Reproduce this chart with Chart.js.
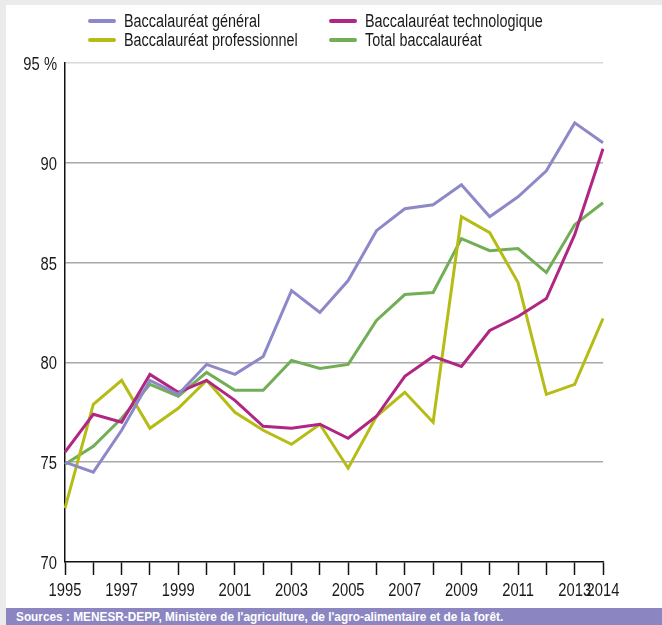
<!DOCTYPE html>
<html>
<head>
<meta charset="utf-8">
<script src="https://cdn.jsdelivr.net/npm/chart.js@4/dist/chart.umd.min.js"></script>
<style>
  html, body { margin: 0; padding: 0; }
  body {
    width: 662px; height: 625px; background: #ebebeb; position: relative; overflow: hidden;
    font-family: "Liberation Sans", Arial, sans-serif;
  }
  #panel { position: absolute; left: 6px; top: 5px; width: 656px; height: 603px; background: #fff; }
  #wrap { position: absolute; left: 0; top: 0; width: 662px; height: 605px; }
  #legend { position: absolute; left: 0; top: 0; width: 662px; height: 60px; }
  .item { position: absolute; height: 20px; white-space: nowrap; }
  .item .swatch { position: absolute; left: 0; top: 8px; width: 28px; height: 4px; border-radius: 2px; }
  .item .txt {
    position: absolute; left: 36px; top: 0; font-size: 18px; line-height: 20px; color: #1a1a1a;
    transform: scaleX(0.8); transform-origin: left center;
  }
  #footer {
    position: absolute; left: 6px; top: 608px; width: 656px; height: 17px; background: #8b86c2;
  }
  #footer span {
    position: absolute; left: 10px; top: 0; color: #fff; font-weight: bold; font-size: 13px; line-height: 17px;
    white-space: nowrap; transform: scaleX(0.91); transform-origin: left center;
  }
</style>
</head>
<body>
<div id="panel"></div>
<div id="wrap"><canvas id="chart" width="662" height="605"></canvas></div>
<div id="legend"></div>
<div id="footer"><span>Sources : MENESR-DEPP, Ministère de l'agriculture, de l'agro-alimentaire et de la forêt.</span></div>
<script>
// Years and tick labels
const years = ['1995','1996','1997','1998','1999','2000','2001','2002','2003','2004',
               '2005','2006','2007','2008','2009','2010','2011','2012','2013','2014'];
const yearTickLabels = ['1995','','1997','','1999','','2001','','2003','',
                        '2005','','2007','','2009','','2011','','2013','2014'];
const yTickValues = [70, 75, 80, 85, 90, 95];
const yTickLabels = ['70', '75', '80', '85', '90', '95 %'];

// Taux de réussite (%)
const bacGeneral = [75.0, 74.5, 76.6, 79.1, 78.4, 79.9, 79.4, 80.3, 83.6, 82.5,
                    84.1, 86.6, 87.7, 87.9, 88.9, 87.3, 88.3, 89.6, 92.0, 91.0];
const bacTechno = [75.5, 77.4, 77.0, 79.4, 78.5, 79.1, 78.1, 76.8, 76.7, 76.9,
                   76.2, 77.3, 79.3, 80.3, 79.8, 81.6, 82.3, 83.2, 86.4, 90.7];
const bacPro = [72.7, 77.9, 79.1, 76.7, 77.7, 79.1, 77.5, 76.6, 75.9, 76.9,
                74.7, 77.3, 78.5, 77.0, 87.3, 86.5, 84.0, 78.4, 78.9, 82.2];
const bacTotal = [74.9, 75.8, 77.2, 78.9, 78.3, 79.5, 78.6, 78.6, 80.1, 79.7,
                  79.9, 82.1, 83.4, 83.5, 86.2, 85.6, 85.7, 84.5, 86.9, 88.0];

const FONT = '"Liberation Sans", Arial, sans-serif';

const series = [
    { label: 'Baccalauréat général', data: bacGeneral, color: '#8d89c9', left: 88, top: 11 },
    { label: 'Baccalauréat technologique', data: bacTechno, color: '#b02682', left: 329, top: 11 },
    { label: 'Baccalauréat professionnel', data: bacPro, color: '#b5bc16', left: 88, top: 30 },
    { label: 'Total baccalauréat', data: bacTotal, color: '#72ae55', left: 329, top: 30 }
];

// legend drawn in html, 2 columns
const legend = document.getElementById('legend');
series.forEach(s => {
    const div = document.createElement('div');
    div.className = 'item';
    div.style.left = s.left + 'px';
    div.style.top = s.top + 'px';
    div.innerHTML = '<span class="swatch" style="background:' + s.color + '"></span><span class="txt">' + s.label + '</span>';
    legend.appendChild(div);
});

// narrow tick labels: drawn squeezed at the scale's own tick positions
const narrowTicks = {
    id: 'narrowTicks',
    afterDraw(chart) {
        const c = chart.ctx;
        const xs = chart.scales.x, ys = chart.scales.y;
        c.save();
        c.fillStyle = '#1a1a1a';
        c.font = '18px ' + FONT;
        c.textBaseline = 'middle';
        c.textAlign = 'center';
        yearTickLabels.forEach((lab, i) => {
            if (!lab) return;
            c.save();
            c.translate(xs.getPixelForTick(i), xs.bottom - 14);
            c.scale(0.82, 1);
            c.fillText(lab, 0, 0);
            c.restore();
        });
        c.textAlign = 'right';
        yTickValues.forEach((v, i) => {
            c.save();
            c.translate(ys.right - 8, ys.getPixelForValue(v) + 2);
            c.scale(0.82, 1);
            c.fillText(yTickLabels[i], 0, 0);
            c.restore();
        });
        c.restore();
    }
};

const ctx = document.getElementById('chart').getContext('2d');
new Chart(ctx, {
    type: 'line',
    data: {
        labels: years,
        datasets: series.map(s => ({
            label: s.label,
            data: s.data,
            borderColor: s.color,
            backgroundColor: s.color,
            borderWidth: 3,
            pointRadius: 0,
            tension: 0,
            borderJoinStyle: 'miter'
        }))
    },
    options: {
        responsive: false,
        animation: false,
        layout: { padding: { left: 0, top: 63, right: 59, bottom: 0 } },
        plugins: { legend: { display: false }, tooltip: { enabled: false } },
        scales: {
            x: {
                type: 'category',
                offset: false,
                border: { display: true, color: '#111', width: 1.5 },
                grid: { drawOnChartArea: false, drawTicks: true, tickLength: 13, tickColor: '#111', tickWidth: 1.5 },
                ticks: { autoSkip: false, maxRotation: 0, display: false },
                afterFit: scale => { scale.height = 43; }
            },
            y: {
                min: 70, max: 95,
                border: { display: true, color: '#111', width: 1.5 },
                grid: {
                    drawTicks: false,
                    color: c => (c.tick.value === 70 ? 'rgba(0,0,0,0)' : (c.tick.value === 95 ? '#d8d8d8' : '#a8a8a8')),
                    lineWidth: 1.5
                },
                ticks: { stepSize: 5, display: false },
                afterFit: scale => { scale.width = 65; }
            }
        }
    },
    plugins: [narrowTicks]
});
</script>
</body>
</html>
